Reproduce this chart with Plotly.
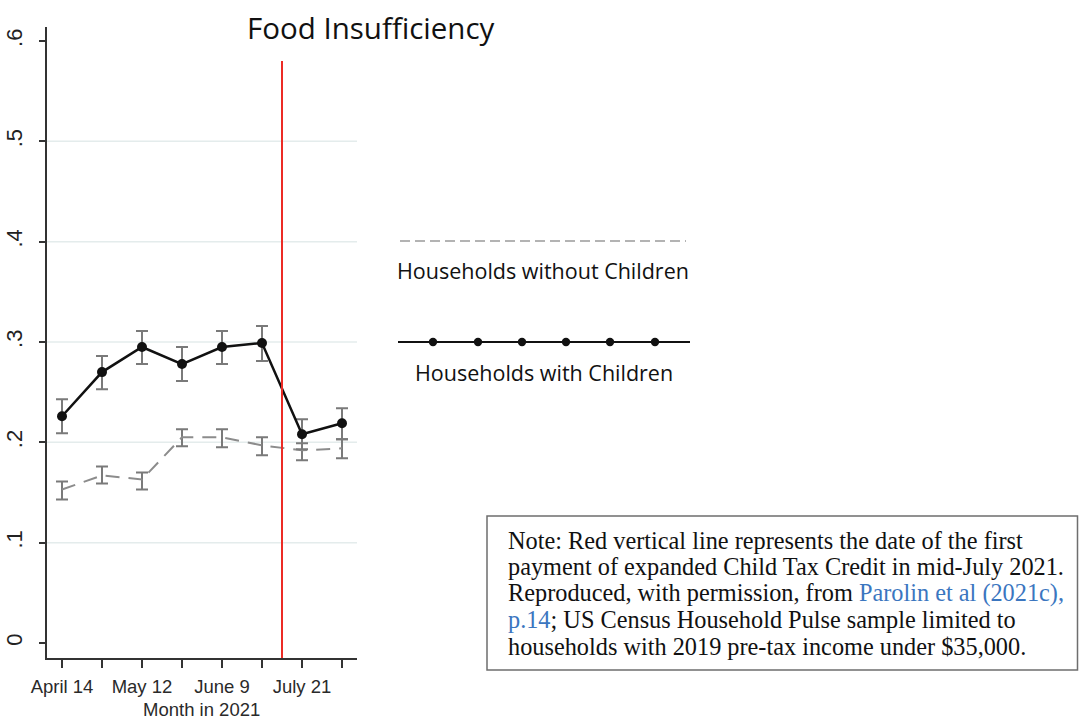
import plotly.graph_objects as go

# Census Household Pulse survey weeks (2021)
weeks = ["April 14", "April 28", "May 12", "May 26", "June 9", "June 23", "July 21", "August 4"]
tick_text = ["April 14", "", "May 12", "", "June 9", "", "July 21", ""]

# Share of households reporting food insufficiency, with 95% CI bounds
with_children = [0.226, 0.270, 0.295, 0.278, 0.295, 0.299, 0.208, 0.219]
with_children_hi = [0.243, 0.286, 0.311, 0.295, 0.311, 0.316, 0.223, 0.234]
with_children_lo = [0.209, 0.253, 0.278, 0.261, 0.278, 0.281, 0.193, 0.203]

without_children = [0.153, 0.167, 0.163, 0.205, 0.205, 0.197, 0.192, 0.194]
without_children_hi = [0.161, 0.176, 0.170, 0.213, 0.213, 0.205, 0.199, 0.203]
without_children_lo = [0.143, 0.159, 0.153, 0.196, 0.195, 0.187, 0.182, 0.184]

grid_levels = [0.1, 0.2, 0.3, 0.4, 0.5]
ctc_payment_pos = 5.5  # between June 23 and July 21 survey weeks

note_lines = [
    "Note: Red vertical line represents the date of the first",
    "payment of expanded Child Tax Credit in mid-July 2021.",
    "Reproduced, with permission, from <span style='color:#3b76bf'>Parolin et al (2021c),</span>",
    "<span style='color:#3b76bf'>p.14</span>; US Census Household Pulse sample limited to",
    "households with 2019 pre-tax income under $35,000.",
]
note_line_y = [540, 566, 593, 619, 646]

W, H = 1079, 719


def px(x):
    return x / W


def py(y):
    return 1 - y / H


def err(vals, hi, lo):
    return dict(
        type="data",
        symmetric=False,
        array=[h - v for h, v in zip(hi, vals)],
        arrayminus=[v - l for v, l in zip(vals, lo)],
        color="#7a7a7a",
        thickness=2,
        width=6,
    )


fig = go.Figure()

fig.add_trace(go.Scatter(
    x=weeks, y=without_children,
    mode="lines",
    line=dict(color="#8c8c8c", width=2, dash="14px,9px"),
    error_y=err(without_children, without_children_hi, without_children_lo),
    showlegend=False,
))

fig.add_trace(go.Scatter(
    x=weeks, y=with_children,
    mode="lines+markers",
    line=dict(color="#111111", width=2.5),
    marker=dict(color="#111111", size=10),
    error_y=err(with_children, with_children_hi, with_children_lo),
    showlegend=False,
))

shapes = []
for g in grid_levels:
    shapes.append(dict(type="line", xref="x", yref="y", x0=-0.375, x1=7.375, y0=g, y1=g,
                       line=dict(color="#e4ecec", width=1.5), layer="below"))

# first expanded Child Tax Credit payment
shapes.append(dict(type="line", xref="x", yref="y", x0=ctc_payment_pos, x1=ctc_payment_pos,
                   y0=-0.015, y1=0.58, line=dict(color="#ec2b25", width=2)))

# key for the two series
shapes.append(dict(type="line", xref="paper", yref="paper", x0=px(400), x1=px(686),
                   y0=py(241), y1=py(241), line=dict(color="#9a9a9a", width=1.5, dash="10px,5px")))
shapes.append(dict(type="line", xref="paper", yref="paper", x0=px(398), x1=px(690),
                   y0=py(342), y1=py(342), line=dict(color="#111111", width=2)))
for cx in [433, 478, 522, 566, 610, 655]:
    r = 4.2
    shapes.append(dict(type="circle", xref="paper", yref="paper",
                       x0=px(cx - r), x1=px(cx + r), y0=py(342 + r), y1=py(342 - r),
                       fillcolor="#111111", line=dict(color="#111111", width=0)))

# note box
shapes.append(dict(type="rect", xref="paper", yref="paper", x0=px(487), x1=px(1077.5),
                   y0=py(670), y1=py(516), line=dict(color="#6e6e6e", width=1.5)))

annotations = [
    dict(text="Food Insufficiency", xref="paper", yref="paper", x=px(371), y=py(28),
         showarrow=False, xanchor="center", yanchor="middle",
         font=dict(family="Open Sans", size=29.5, color="#111111")),
    dict(text="Households without Children", xref="paper", yref="paper", x=px(543), y=py(270),
         showarrow=False, xanchor="center", yanchor="middle",
         font=dict(family="Open Sans", size=21.5, color="#111111")),
    dict(text="Households with Children", xref="paper", yref="paper", x=px(544), y=py(372),
         showarrow=False, xanchor="center", yanchor="middle",
         font=dict(family="Open Sans", size=21.5, color="#111111")),
    dict(text="Month in 2021", xref="paper", yref="paper", x=px(201), y=py(709),
         showarrow=False, xanchor="center", yanchor="middle",
         font=dict(family="Liberation Sans", size=18.5, color="#2a2a2a")),
]
for line, yc in zip(note_lines, note_line_y):
    annotations.append(dict(text=line, xref="paper", yref="paper", x=px(506), y=py(yc),
                            showarrow=False, xanchor="left", yanchor="middle", align="left",
                            font=dict(family="Liberation Serif", size=24.3, color="#111111")))

fig.update_layout(
    width=W, height=H,
    margin=dict(l=0, r=0, t=0, b=0),
    paper_bgcolor="white", plot_bgcolor="white",
    shapes=shapes, annotations=annotations,
    xaxis=dict(
        domain=[px(47), px(357)],
        type="category", categoryorder="array", categoryarray=weeks,
        range=[-0.375, 7.375],
        tickvals=weeks, ticktext=tick_text,
        ticks="outside", ticklen=8, tickwidth=1.5, tickcolor="#333333",
        showline=True, linecolor="#333333", linewidth=1.5,
        showgrid=False, zeroline=False, tickangle=0,
        ticklabelstandoff=3,
        tickfont=dict(family="Liberation Sans", size=18.5, color="#2a2a2a"),
        automargin=False,
    ),
    yaxis=dict(
        domain=[py(658), py(27)],
        range=[-0.015, 0.614],
        tickvals=[0, 0.1, 0.2, 0.3, 0.4, 0.5, 0.6],
        ticktext=["0", ".1", ".2", ".3", ".4", ".5", ".6"],
        ticks="outside", ticklen=6, tickwidth=1.5, tickcolor="#333333",
        showline=True, linecolor="#333333", linewidth=1.5,
        showgrid=False, zeroline=False, tickangle=-90,
        ticklabelstandoff=8,
        tickfont=dict(family="Liberation Sans", size=22, color="#222222"),
        automargin=False,
    ),
)

fig.write_html("out.html")
